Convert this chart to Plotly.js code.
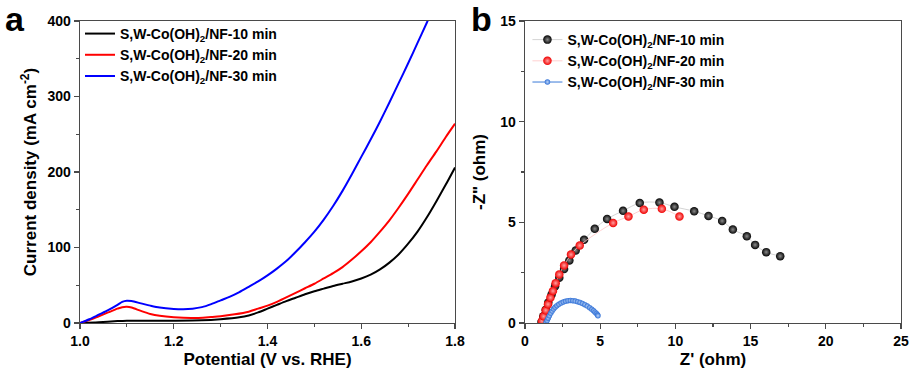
<!DOCTYPE html>
<html>
<head>
<meta charset="utf-8">
<script src="https://cdn.plot.ly/plotly-3.0.1.min.js"></script>
<style>html,body{margin:0;padding:0;background:#fff;}#chart{width:912px;height:377px;}</style>
</head>
<body>
<div id="chart"></div>
<script>
// ---- Panel a: LSV data ----
const potentialBlack = [1.00,1.04,1.08,1.10,1.15,1.20,1.26,1.30,1.34,1.36,1.38,1.40,1.42,1.44,1.46,1.48,1.50,1.52,1.54,1.56,1.58,1.60,1.62,1.64,1.66,1.68,1.70,1.72,1.74,1.76,1.78,1.80];
const currentBlack   = [0,1,2.5,3,3,3,3.5,5,7.5,10,14,19,24,29,33.5,38,42,45.5,49,52,55,59,64,71,80,91,105,121,140,161,183,206];

const potentialRed = [1.00,1.02,1.04,1.06,1.08,1.09,1.10,1.11,1.13,1.15,1.17,1.20,1.24,1.28,1.30,1.33,1.36,1.38,1.40,1.42,1.44,1.46,1.48,1.50,1.52,1.54,1.56,1.58,1.60,1.62,1.64,1.66,1.68,1.70,1.72,1.74,1.76,1.78,1.80];
const currentRed   = [0,4,9,14,19,21,21.5,20.5,16,12,9.5,7.5,6.5,8,9,11.5,15,19,23,28,34,40,46,52,59,66,74,84,95,107,121,136,153,171,190,209,227,246,264];

const potentialBlue = [1.00,1.02,1.04,1.06,1.08,1.09,1.10,1.11,1.13,1.15,1.17,1.20,1.22,1.24,1.26,1.28,1.30,1.32,1.34,1.36,1.38,1.40,1.42,1.44,1.46,1.48,1.50,1.52,1.54,1.56,1.58,1.60,1.62,1.64,1.66,1.68,1.70,1.72,1.74,1.745];
const currentBlue   = [0,5,11,17,24,28,29.5,29,26,23,20.5,18.7,18.3,19,21,25,30,35,41,48,55,63,72,82,94,107,121,137,155,175,197,220,243,267,292,318,344,371,398,405];

// ---- Panel b: Nyquist data ----
const zReBlack = [1.10,1.22,1.38,1.55,1.77,2.00,2.28,2.60,2.95,3.37,3.93,4.64,5.46,6.52,7.63,8.94,9.94,11.25,12.20,13.11,13.82,14.75,15.30,16.04,16.97];
const zImBlack = [0.05,0.33,0.66,1.02,1.42,1.82,2.25,2.68,3.11,3.60,4.13,4.68,5.17,5.57,5.96,5.98,5.77,5.55,5.32,5.07,4.64,4.31,3.88,3.52,3.32];

const zReRed = [1.13,1.24,1.38,1.53,1.69,1.86,2.04,2.28,2.60,3.06,3.64,5.86,6.88,7.90,9.10,10.27];
const zImRed = [0.10,0.33,0.63,0.93,1.26,1.59,1.98,2.41,2.86,3.40,3.85,4.97,5.29,5.63,5.67,5.29];

const zReBlue = [1.40,1.47,1.54,1.62,1.71,1.80,1.90,2.00,2.12,2.25,2.40,2.55,2.70,2.86,3.02,3.18,3.34,3.50,3.66,3.82,3.98,4.14,4.30,4.44,4.56,4.66,4.75,4.82,4.85];
const zImBlue = [0.02,0.12,0.24,0.36,0.48,0.59,0.69,0.78,0.86,0.93,0.99,1.04,1.08,1.11,1.12,1.11,1.09,1.06,1.02,0.97,0.91,0.84,0.76,0.68,0.61,0.54,0.47,0.41,0.36];

const seriesNames = ['S,W-Co(OH)<sub>2</sub>/NF-10 min','S,W-Co(OH)<sub>2</sub>/NF-20 min','S,W-Co(OH)<sub>2</sub>/NF-30 min'];

const F = 'Arial, "Liberation Sans", sans-serif';
const lineCol = '#4a4a4a';

const traces = [
  {x: potentialBlack, y: currentBlack, name: seriesNames[0], mode:'lines', line:{color:'#000000', width:2, shape:'spline', smoothing:0.8}, xaxis:'x', yaxis:'y', legend:'legend'},
  {x: potentialRed, y: currentRed, name: seriesNames[1], mode:'lines', line:{color:'#ff0000', width:2, shape:'spline', smoothing:0.8}, xaxis:'x', yaxis:'y', legend:'legend'},
  {x: potentialBlue, y: currentBlue, name: seriesNames[2], mode:'lines', line:{color:'#0000ff', width:2, shape:'spline', smoothing:0.8}, xaxis:'x', yaxis:'y', legend:'legend'},
  {x: zReBlack, y: zImBlack, name: seriesNames[0], mode:'lines+markers', line:{color:'#c8c8c8', width:0.8, shape:'spline'},
   marker:{size:8.5, color:'#050505', gradient:{type:'radial', color:'#8a8a8a'}, line:{width:0}}, xaxis:'x2', yaxis:'y2', legend:'legend2'},
  {x: zReRed, y: zImRed, name: seriesNames[1], mode:'lines+markers', line:{color:'#ffc4c4', width:0.8, shape:'spline'},
   marker:{size:8.5, color:'#f00000', gradient:{type:'radial', color:'#ffa0a0'}, line:{width:0}}, xaxis:'x2', yaxis:'y2', legend:'legend2'},
  {x: zReBlue, y: zImBlue, name: seriesNames[2], mode:'lines+markers', line:{color:'#3a7ad8', width:1, shape:'spline'},
   marker:{size:5.5, color:'#2f6fd6', gradient:{type:'radial', color:'#c0d8f8'}, line:{width:0}}, xaxis:'x2', yaxis:'y2', legend:'legend2'}
];

const axisBase = {
  showline:true, linecolor:lineCol, linewidth:1.3, mirror:true,
  ticks:'outside', ticklen:5, tickwidth:1.2, tickcolor:lineCol,
  showgrid:false, zeroline:false,
  tickfont:{family:F, size:14, color:'#000', weight:700},
  automargin:false
};
const titleFont = {family:F, size:17, color:'#000', weight:700};
const legFont = {family:F, size:14, color:'#000', weight:700};

const layout = {
  width:912, height:377,
  margin:{l:80, r:11, t:21, b:54},
  paper_bgcolor:'#fff', plot_bgcolor:'#fff',
  showlegend:true,
  xaxis: Object.assign({}, axisBase, {domain:[0,0.4568], range:[1.0,1.8], dtick:0.2, tick0:1.0, tickformat:'.1f',
    minor:{dtick:0.1, ticklen:3, tickcolor:lineCol, ticks:'outside'},
    title:{text:'Potential (V vs. RHE)', font:titleFont, standoff:5}}),
  yaxis: Object.assign({}, axisBase, {domain:[0,1], range:[0,400], dtick:100,
    minor:{dtick:50, ticklen:3, tickcolor:lineCol, ticks:'outside'},
    title:{text:'Current density (mA cm<sup>-2</sup>)', font:titleFont, standoff:6}}),
  xaxis2: Object.assign({}, axisBase, {domain:[0.542,1], range:[0,25], dtick:5, anchor:'y2',
    minor:{dtick:2.5, ticklen:3, tickcolor:lineCol, ticks:'outside'},
    title:{text:"Z' (ohm)", font:titleFont, standoff:5}}),
  yaxis2: Object.assign({}, axisBase, {domain:[0,1], range:[0,15], dtick:5, anchor:'x2',
    minor:{dtick:2.5, ticklen:3, tickcolor:lineCol, ticks:'outside'},
    title:{text:'-Z" (ohm)', font:titleFont, standoff:10}}),
  legend:{x:0.0, y:1.01, xanchor:'left', yanchor:'top', bgcolor:'rgba(0,0,0,0)', borderwidth:0,
    font:legFont, tracegroupgap:0},
  legend2:{x:0.545, y:0.99, xanchor:'left', yanchor:'top', bgcolor:'rgba(0,0,0,0)', borderwidth:0,
    font:legFont, tracegroupgap:0},
  annotations:[
    {text:'a', xref:'paper', yref:'paper', x:-0.094, y:1.075, xanchor:'left', yanchor:'top', showarrow:false,
     font:{family:F, size:34, color:'#000', weight:700}},
    {text:'b', xref:'paper', yref:'paper', x:0.474, y:1.075, xanchor:'left', yanchor:'top', showarrow:false,
     font:{family:F, size:34, color:'#000', weight:700}}
  ]
};

Plotly.newPlot('chart', traces, layout, {displayModeBar:false, staticPlot:true});
</script>
</body>
</html>
